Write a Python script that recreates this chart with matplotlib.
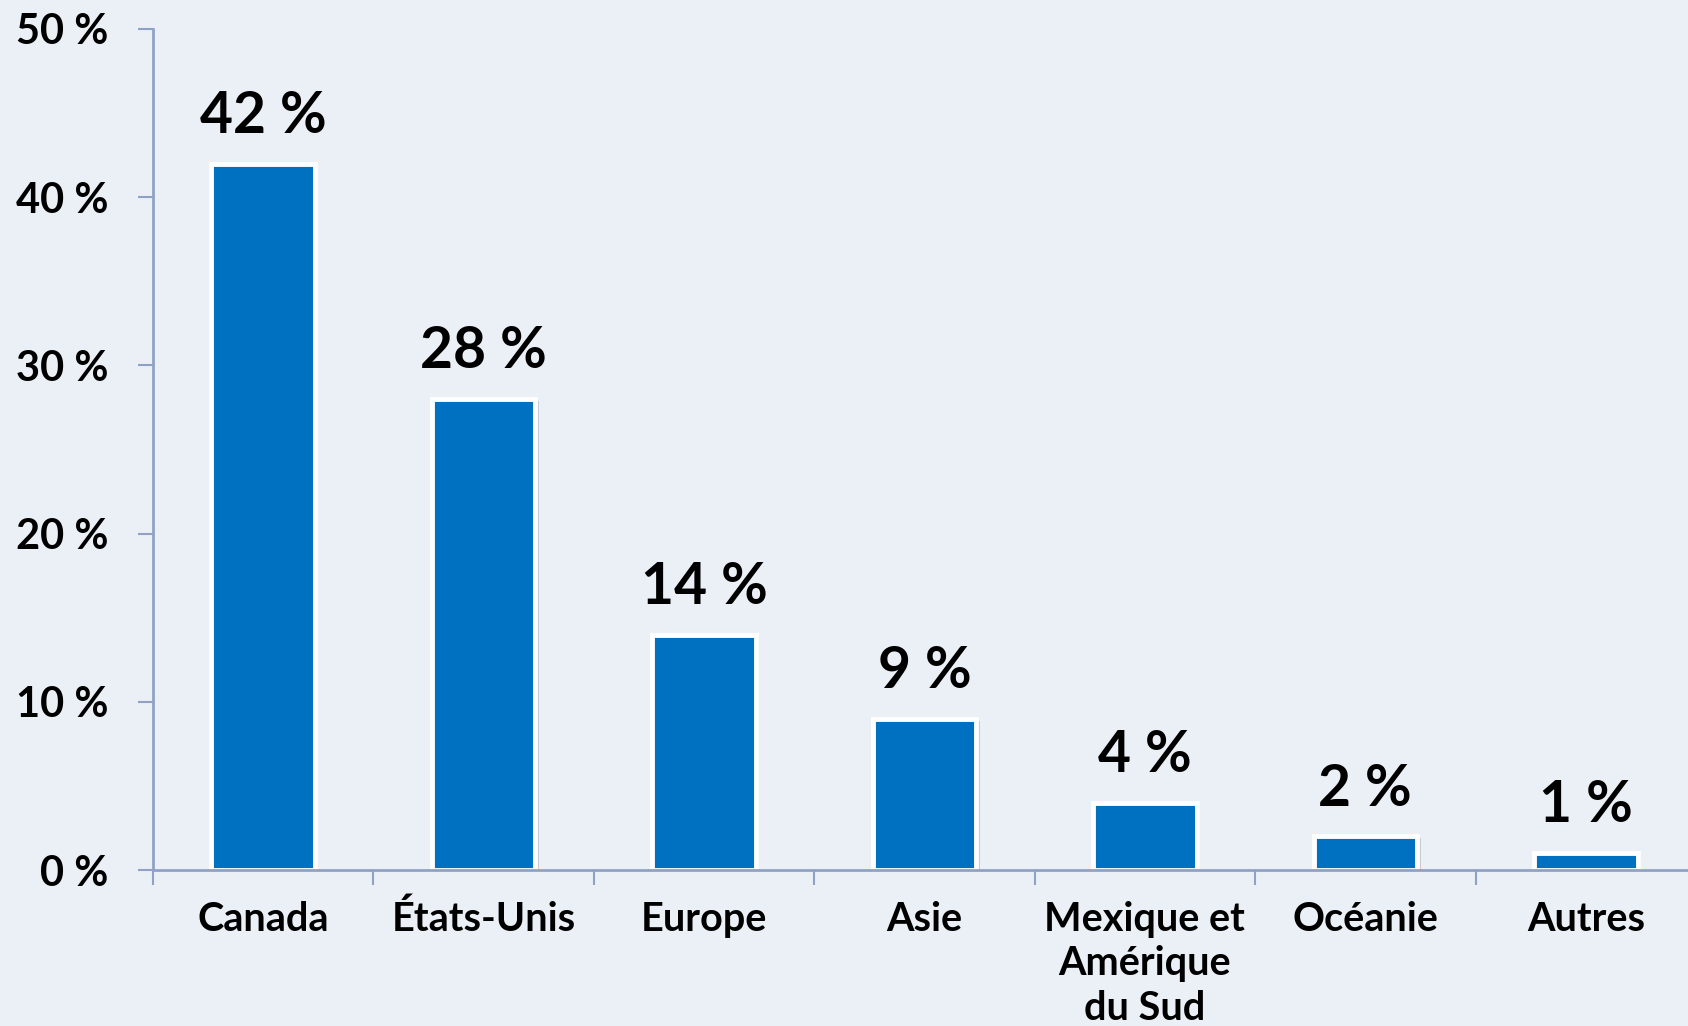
import matplotlib
matplotlib.use("Agg")
import matplotlib.pyplot as plt
import matplotlib.patheffects as pe

categories = ["Canada", "États-Unis", "Europe", "Asie", "Mexique et\nAmérique\ndu Sud", "Océanie", "Autres"]
values = [42, 28, 14, 9, 4, 2, 1]
value_labels = ["42 %", "28 %", "14 %", "9 %", "4 %", "2 %", "1 %"]
yticks = [0, 10, 20, 30, 40, 50]
ytick_labels = ["0 %", "10 %", "20 %", "30 %", "40 %", "50 %"]

BG = "#EBF0F7"
BLUE = "#0070C0"
AXIS = "#8FA2C6"
FONT = "Lato"

fig = plt.figure(figsize=(16.88, 10.26), dpi=100, facecolor=BG)
ax = fig.add_axes([153/1688, 1 - 870/1026, 1543/1688, 841/1026])
ax.set_facecolor(BG)

x = list(range(len(categories)))
bars = ax.bar(x, values, width=0.47, color=BLUE, edgecolor="white", linewidth=3.5, zorder=2)
for b in bars:
    b.set_path_effects([pe.SimplePatchShadow(offset=(2.5, -1.5), shadow_rgbFace="#7f8794", alpha=0.35), pe.Normal()])

for xi, v, lab in zip(x, values, value_labels):
    ax.annotate(lab, (xi, v), xytext=(0, 15), textcoords="offset points", ha="center", va="bottom",
                fontsize=41, fontweight="bold", family=FONT, color="black")

ax.set_xlim(-0.5, len(categories) - 0.5)
ax.set_ylim(0, 50)
ax.set_yticks(yticks)
ax.set_yticklabels(ytick_labels, fontsize=30, fontweight="bold", family=FONT)
ax.set_xticks([i + 0.5 for i in range(-1, len(categories))], minor=False)
ax.set_xticklabels([])
ax.set_xticks(x, minor=True)
ax.set_xticklabels(categories, minor=True, fontsize=28.5, fontweight="bold", family=FONT, linespacing=1.25)
ax.tick_params(axis="x", which="major", length=11, width=1.5, color=AXIS, direction="out")
ax.tick_params(axis="x", which="minor", length=0, pad=22)
ax.tick_params(axis="y", length=11, width=1.5, color=AXIS, pad=21)

for s in ["top", "right"]:
    ax.spines[s].set_visible(False)
for s in ["left", "bottom"]:
    ax.spines[s].set_color(AXIS)
    ax.spines[s].set_linewidth(2)
    ax.spines[s].set_zorder(3)

fig.savefig("out.png", dpi=100, facecolor=BG)
